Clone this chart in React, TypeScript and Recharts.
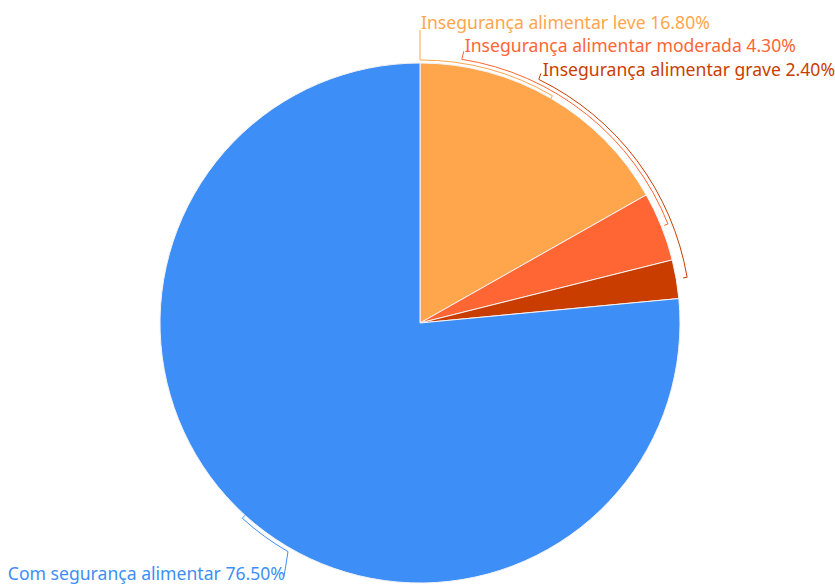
import React from "react";
import { PieChart, Pie, Cell } from "recharts";

const CATEGORIES = [
  "Insegurança alimentar leve",
  "Insegurança alimentar moderada",
  "Insegurança alimentar grave",
  "Com segurança alimentar",
];
const VALUES = [16.8, 4.3, 2.4, 76.5];
const COLORS = ["#ffa64d", "#ff6633", "#c93e00", "#3d8ff7"];

// bracket geometry per slice: arc radius offset, angle where the label sits, tick end offset
const LABEL_LAYOUT = [
  { off: 3, angle: 90, dx: 0, dy: -30, anchor: "start", tx: 1, ty: -1 },
  { off: 7, angle: 81, dx: 2, dy: -8, anchor: "start", tx: 1, ty: 1 },
  { off: 11, angle: 64, dx: 2, dy: -6, anchor: "start", tx: 2, ty: 3 },
  { off: 4, angle: 240, dx: -4, dy: 25, anchor: "end", tx: 1, ty: 3 },
];

const data = CATEGORIES.map((name, i) => ({ name, value: VALUES[i] }));

const RAD = Math.PI / 180;

const renderLabel = (props: any) => {
  const { cx, cy, outerRadius, midAngle, index, value, name } = props;
  const l = LABEL_LAYOUT[index];
  const r = outerRadius + l.off;
  const pt = (a: number, rr: number) => [cx + rr * Math.cos(a * RAD), cy - rr * Math.sin(a * RAD)];
  const [ix, iy] = pt(midAngle, r - 4);
  const [mx, my] = pt(midAngle, r);
  const [lx, ly] = pt(l.angle, r);
  const ex = lx + l.dx;
  const ey = ly + l.dy;
  const d = `M${ix},${iy} L${mx},${my} A${r},${r} 0 0 0 ${lx},${ly} L${ex},${ey}`;
  const color = COLORS[index];
  return (
    <g key={`lbl-${index}`}>
      <path d={d} stroke={color} fill="none" strokeWidth={1} />
      <text
        x={ex + l.tx}
        y={ey + l.ty}
        fill={color}
        textAnchor={l.anchor}
        fontSize={17.6}
        fontFamily="'Noto Sans', sans-serif"
      >
        {`${name} ${value.toFixed(2)}%`}
      </text>
    </g>
  );
};

export default function App() {
  return (
    <div style={{ position: "absolute", left: 0, top: 0, width: 835, height: 584, background: "#fff" }}>
      <PieChart width={835} height={584} margin={{ top: 0, right: 0, bottom: 0, left: 0 }}>
        <Pie
          data={data}
          dataKey="value"
          nameKey="name"
          cx={420}
          cy={323}
          outerRadius={260}
          startAngle={90}
          endAngle={-270}
          stroke="#f2f2f2"
          strokeWidth={1}
          label={renderLabel}
          labelLine={false}
          isAnimationActive={false}
        >
          {data.map((_, i) => (
            <Cell key={`cell-${i}`} fill={COLORS[i]} />
          ))}
        </Pie>
      </PieChart>
    </div>
  );
}
